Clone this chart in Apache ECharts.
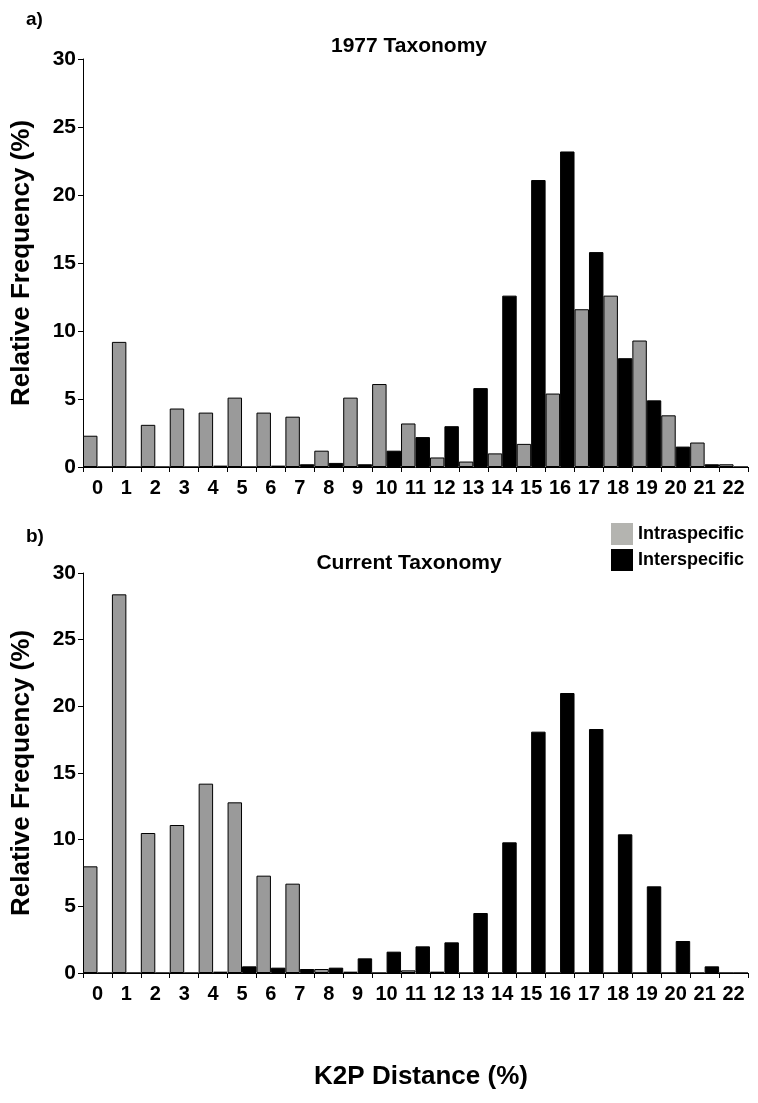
<!DOCTYPE html>
<html><head><meta charset="utf-8">
<script src="https://cdn.jsdelivr.net/npm/echarts@6/dist/echarts.min.js"></script>
<style>html,body{margin:0;padding:0;background:#fff}#c{width:758px;height:1103px}</style>
</head><body><div id="c"></div>
<script>
const categories = ['0','1','2','3','4','5','6','7','8','9','10','11','12','13','14','15','16','17','18','19','20','21','22'];
const intra1977 = [2.3,9.2,3.1,4.3,4.0,5.1,4.0,3.7,1.2,5.1,6.1,3.2,0.7,0.4,1.0,1.7,5.4,11.6,12.6,9.3,3.8,1.8,0.2];
const inter1977 = [0,0,0,0,0.1,0,0.1,0.2,0.3,0.2,1.2,2.2,3.0,5.8,12.6,21.1,23.2,15.8,8.0,4.9,1.5,0.2,0];
const intraCurrent = [8.0,28.4,10.5,11.1,14.2,12.8,7.3,6.7,0.3,0.1,0,0.2,0.1,0,0,0,0,0,0,0,0,0,0];
const interCurrent = [0,0,0,0,0.1,0.5,0.4,0.3,0.4,1.1,1.6,2.0,2.3,4.5,9.8,18.1,21.0,18.3,10.4,6.5,2.4,0.5,0];
const yTicks = [0,5,10,15,20,25,30];

const FONT = '"Liberation Sans", Arial, sans-serif';
const chart = echarts.init(document.getElementById('c'));
function xAx(i){return {type:'category',gridIndex:i,data:categories,boundaryGap:true,
  axisLine:{lineStyle:{color:'#000',width:1}},
  axisTick:{show:true,alignWithLabel:false,length:5,lineStyle:{color:'#000'}},
  axisLabel:{color:'#000',fontFamily:FONT,fontWeight:'bold',fontSize:20,margin:11,interval:0}};}
function yAx(i){return {type:'value',gridIndex:i,min:yTicks[0],max:yTicks[yTicks.length-1],interval:5,
  name:'Relative Frequency (%)',nameLocation:'middle',nameGap:48,
  nameTextStyle:{color:'#000',fontFamily:FONT,fontWeight:'bold',fontSize:26},
  axisLine:{show:true,lineStyle:{color:'#000',width:1}},
  axisTick:{show:true,length:5,lineStyle:{color:'#000'}},
  splitLine:{show:false},
  axisLabel:{color:'#000',fontFamily:FONT,fontWeight:'bold',fontSize:21,margin:7}};}
function bar(name,data,i,color){return {name:name,type:'bar',xAxisIndex:i,yAxisIndex:i,data:data,
  barGap:'0%',barCategoryGap:'0%',
  itemStyle:{color:color,borderColor:'#000',borderWidth:1},animation:false};}
const ts = (s)=>({fontFamily:FONT,fontWeight:'bold',fontSize:s,color:'#000'});
chart.setOption({
  animation:false,
  title:[
    {text:'a)',left:26,top:10,padding:0,textStyle:ts(19)},
    {text:'1977 Taxonomy',left:409,top:36,padding:0,textAlign:'center',textStyle:ts(21)},
    {text:'b)',left:26,top:527,padding:0,textStyle:ts(19)},
    {text:'Current Taxonomy',left:409,top:553,padding:0,textAlign:'center',textStyle:ts(21)},
    {text:'K2P Distance (%)',left:421,top:1064,padding:0,textAlign:'center',textStyle:ts(26)}
  ],
  legend:{left:611,top:523,orient:'vertical',itemWidth:22,itemHeight:22,itemGap:4,padding:0,
    data:[{name:'Intraspecific',icon:'rect',itemStyle:{color:'#b4b4b0',borderWidth:0}},{name:'Interspecific',icon:'rect',itemStyle:{color:'#000',borderWidth:0}}],
    textStyle:{fontFamily:FONT,fontWeight:'bold',fontSize:18,color:'#000'}},
  grid:[
    {left:83,right:10,top:59,bottom:636},
    {left:83,right:10,top:573,bottom:130}
  ],
  xAxis:[xAx(0),xAx(1)],
  yAxis:[yAx(0),yAx(1)],
  series:[
    bar('Intraspecific',intra1977,0,'#9a9a9a'),
    bar('Interspecific',inter1977,0,'#000000'),
    bar('Intraspecific',intraCurrent,1,'#9a9a9a'),
    bar('Interspecific',interCurrent,1,'#000000')
  ]
});
</script></body></html>
